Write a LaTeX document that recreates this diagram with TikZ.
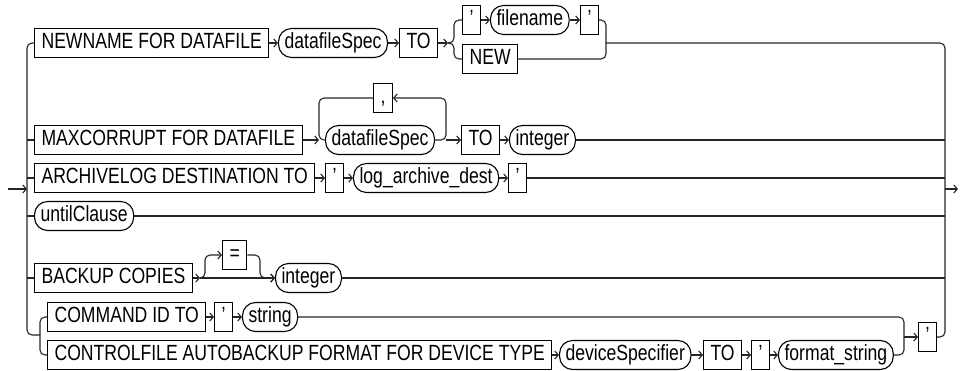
\documentclass[tikz,border=0pt]{standalone}
\usepackage{fontspec}
\setmainfont{Liberation Sans}[FakeStretch=0.8]
\usetikzlibrary{arrows.meta}

\tikzset{
    rail/.style={line width=1.1pt, draw=black!85},
    railarrow/.style={rail, -{Straight Barb[length=3.5pt,width=8pt]}},
    terminal/.style={draw, line width=1.1pt, anchor=west, minimum height=29pt,
        inner xsep=7pt, inner ysep=0pt, text height=16pt, text depth=4.5pt,
        font=\fontsize{22}{22}\selectfont},
    nonterminal/.style={terminal, rounded corners=13pt, inner xsep=6pt},
}

\begin{document}
\begin{tikzpicture}[x=1pt, y=-1pt]

    \useasboundingbox (0,0) rectangle (964,370);

    % entry, exit and the two main buses
    \coordinate (entry) at (8,189);
    \coordinate (lbus) at (27,189);
    \coordinate (rbus) at (945,189);
    \coordinate (exit) at (958,189);
    \draw[railarrow] (entry) -- (lbus);
    \draw[railarrow] (rbus) -- (exit);

    % --------------------------
    % NEWNAME FOR DATAFILE
    % --------------------------
    \node[terminal] (newname) at (34,43) {NEWNAME FOR DATAFILE};
    \node[nonterminal] (dfspec) at (278,43) {datafileSpec};
    \node[terminal] (toA) at (399,43) {TO};
    \node[terminal] (quoteA) at (462,20) {'};
    \node[nonterminal] (filename) at (490,20) {filename};
    \node[terminal] (quoteB) at (580,20) {'};
    \node[terminal] (new) at (462,59) {NEW};
    \coordinate (choicein) at (448,43);
    \coordinate (choiceout) at (606,43);

    \draw[railarrow] (newname) -- (dfspec);
    \draw[railarrow] (dfspec) -- (toA);
    \draw[railarrow] (toA) -- (choicein);
    \draw[rail, rounded corners=5pt] (choicein) -- ++(6,0) |- (quoteA.west);
    \draw[rail, rounded corners=5pt] (choicein) -- ++(6,0) |- (new.west);
    \draw[railarrow] (quoteA) -- (filename);
    \draw[railarrow] (filename) -- (quoteB);
    \draw[rail, rounded corners=5pt] (quoteB.east) -| (choiceout);
    \draw[rail, rounded corners=5pt] (new.east) -| (choiceout);

    \draw[rail, rounded corners=5pt] (newname.west) -| (lbus);
    \draw[rail, rounded corners=5pt] (choiceout) -| (rbus);

    % --------------------------
    % MAXCORRUPT FOR DATAFILE
    % --------------------------
    \node[terminal] (maxcorrupt) at (34,140) {MAXCORRUPT FOR DATAFILE};
    \node[nonterminal] (dfspecB) at (325,140) {datafileSpec};
    \node[terminal] (comma) at (373,98) {,};
    \node[terminal] (toB) at (461,140) {TO};
    \node[nonterminal] (integerA) at (509,140) {integer};
    \coordinate (loopin) at (319,140);
    \coordinate (loopout) at (446,140);

    \draw[railarrow] (maxcorrupt) -- (loopin);
    \draw[railarrow, rounded corners=5pt] (dfspecB.east) -| (comma.east -| loopout) -- (comma.east);
    \draw[rail, rounded corners=5pt] (comma.west) -| (loopin) -- (dfspecB.west);
    \draw[railarrow] (loopout) -- (toB);
    \draw[railarrow] (toB) -- (integerA);

    \draw[rail] (maxcorrupt.west) -- (maxcorrupt.west -| lbus);
    \draw[rail] (integerA.east) -- (integerA.east -| rbus);

    % --------------------------
    % ARCHIVELOG DESTINATION TO
    % --------------------------
    \node[terminal] (archivelog) at (34,178) {ARCHIVELOG DESTINATION TO};
    \node[terminal] (quoteC) at (325,178) {'};
    \node[nonterminal] (logdest) at (353,178) {log\_archive\_dest};
    \node[terminal] (quoteD) at (508,178) {'};

    \draw[railarrow] (archivelog) -- (quoteC);
    \draw[railarrow] (quoteC) -- (logdest);
    \draw[railarrow] (logdest) -- (quoteD);

    \draw[rail] (archivelog.west) -- (archivelog.west -| lbus);
    \draw[rail] (quoteD.east) -- (quoteD.east -| rbus);

    % --------------------------
    % untilClause
    % --------------------------
    \node[nonterminal] (until) at (34,216) {untilClause};

    \draw[rail] (until.west) -- (until.west -| lbus);
    \draw[rail] (until.east) -- (until.east -| rbus);

    % --------------------------
    % BACKUP COPIES
    % --------------------------
    \node[terminal] (backup) at (34,278) {BACKUP COPIES};
    \node[terminal] (eq) at (222,255) {=};
    \node[nonterminal] (integerB) at (275,278) {integer};
    \coordinate (optin) at (200,278);
    \coordinate (optout) at (260,278);

    \draw[railarrow] (backup) -- (optin);
    \draw[railarrow, rounded corners=5pt] (optin) -- ++(5,0) |- (eq.west);
    \draw[railarrow, rounded corners=5pt] (eq.east) -| (optout) -- (integerB.west);
    \draw[railarrow] (optin) -- (integerB);

    \draw[rail] (backup.west) -- (backup.west -| lbus);
    \draw[rail] (integerB.east) -- (integerB.east -| rbus);

    % --------------------------
    % COMMAND ID / CONTROLFILE AUTOBACKUP
    % --------------------------
    \node[terminal] (command) at (47,317) {COMMAND ID TO};
    \node[terminal] (quoteE) at (214,317) {'};
    \node[nonterminal] (string) at (242,317) {string};
    \node[terminal] (controlfile) at (47,355) {CONTROLFILE AUTOBACKUP FORMAT FOR DEVICE TYPE};
    \node[nonterminal] (devspec) at (559,355) {deviceSpecifier};
    \node[terminal] (toC) at (703,355) {TO};
    \node[terminal] (quoteF) at (751,355) {'};
    \node[nonterminal] (fmtstring) at (778,355) {format\_string};
    \node[terminal] (quoteG) at (918,337) {'};
    \coordinate (subin) at (40,335);
    \coordinate (subout) at (904,337);

    \draw[railarrow] (command) -- (quoteE);
    \draw[railarrow] (quoteE) -- (string);
    \draw[railarrow] (controlfile) -- (devspec);
    \draw[railarrow] (devspec) -- (toC);
    \draw[railarrow] (toC) -- (quoteF);
    \draw[railarrow] (quoteF) -- (fmtstring);

    \draw[rail, rounded corners=5pt] (command.west) -| (subin) |- (controlfile.west);
    \draw[rail, rounded corners=5pt] (string.east) -| (subout);
    \draw[rail, rounded corners=5pt] (fmtstring.east) -| (subout);
    \draw[railarrow] (subout) -- (quoteG);

    \draw[rail, rounded corners=5pt] (subin) -| (lbus);
    \draw[rail, rounded corners=5pt] (quoteG.east) -| (rbus);

\end{tikzpicture}
\end{document}
